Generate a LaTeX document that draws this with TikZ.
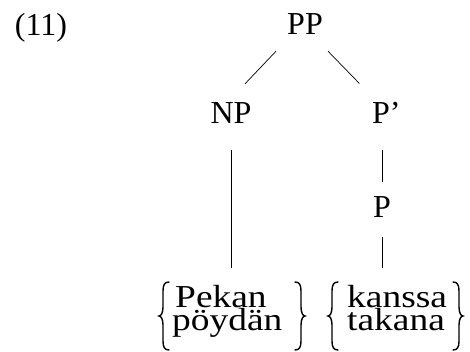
\documentclass[tikz,border=0pt]{standalone}
\usepackage{fontspec}
\setmainfont{Liberation Serif}
\newfontfamily\wordfont[FakeStretch=1.17]{Liberation Serif}
\begin{document}
\begin{tikzpicture}[x=1pt,y=-1pt,
  lab/.style={font=\fontsize{32}{38}\selectfont, inner sep=0pt},
  word/.style={font=\fontsize{32}{38}\wordfont, inner sep=0pt},
  edge/.style={line width=0.7pt},
  curly/.pic={\draw[line width=1.4pt, line cap=round]
    (6,-34) .. controls (1.5,-34) and (0,-31) .. (0,-25) -- (0,-9)
    .. controls (0,-3) and (-2,0) .. (-4,0)
    .. controls (-2,0) and (0,3) .. (0,9) -- (0,25)
    .. controls (0,31) and (1.5,34) .. (6,34);}]
\useasboundingbox[fill=white] (0,0) rectangle (470,351);
\node[lab,anchor=base] (ex) at (41,35) {(11)};
\node[lab,anchor=base] (PP) at (305,34) {PP};
\node[lab,anchor=base] (NP) at (231,123) {NP};
\node[lab,anchor=base west] (Pb) at (372,123) {P’};
\node[lab,anchor=base] (P) at (382,217) {P};
\node[word,anchor=base west] (w1a) at (175,307) {Pekan};
\node[word,anchor=base west] (w1b) at (172,330) {pöydän};
\node[word,anchor=base west] (w2a) at (347,307) {kanssa};
\node[word,anchor=base west] (w2b) at (347,330) {takana};
\pic at (163,316) {curly};
\pic[xscale=-1] at (301,316) {curly};
\pic at (332,316) {curly};
\pic[xscale=-1] at (459,316) {curly};
\draw[edge] ([shift={(-29,17)}]PP.south) -- ([shift={(14,-18)}]NP.north);
\draw[edge] ([shift={(23,17)}]PP.south) -- ([shift={(-27,-18)}]Pb.north);
\draw[edge] ([yshift=-27pt]NP.south) -- ([yshift=17pt]NP.south |- w1a.north);
\draw[edge] ([yshift=-27pt]P.north |- Pb.south) -- ([yshift=14pt]P.north);
\draw[edge] ([yshift=-20pt]P.south) -- ([yshift=17pt]P.south |- w2a.north);
\end{tikzpicture}
\end{document}
